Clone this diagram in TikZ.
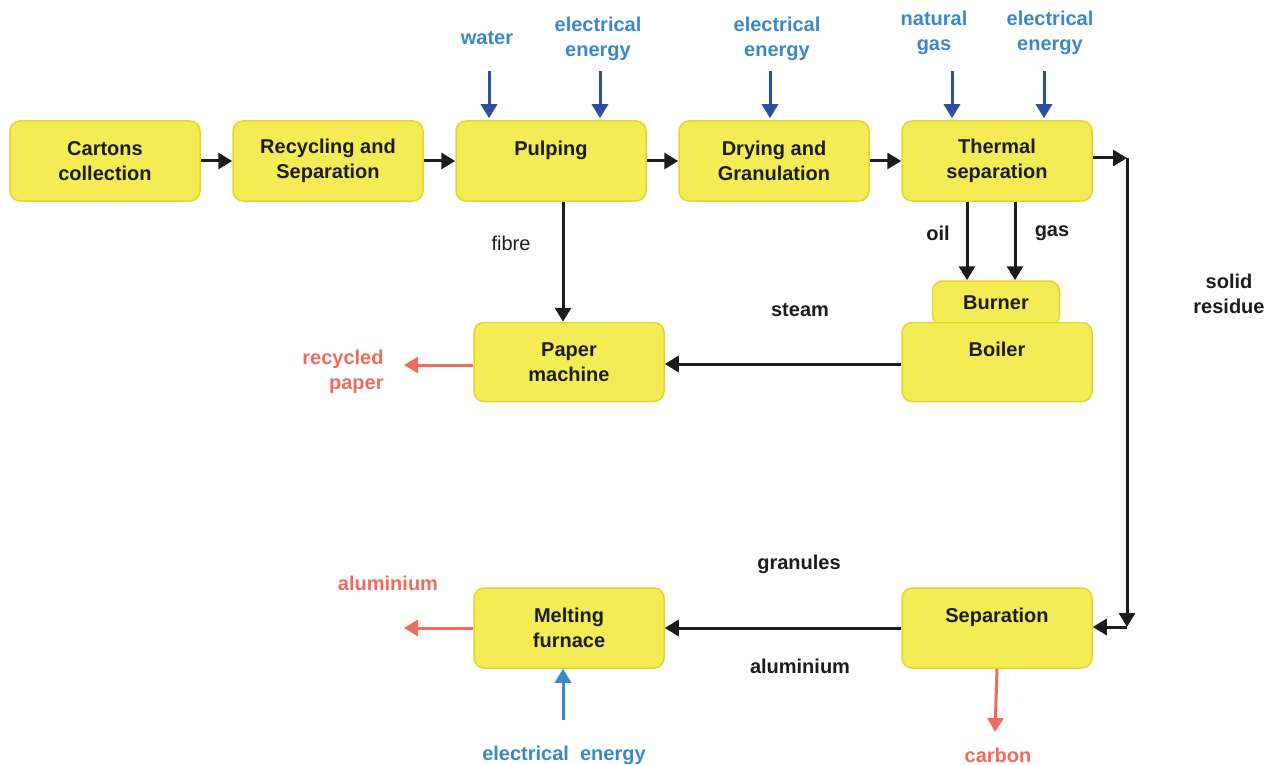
\documentclass[tikz,border=0pt]{standalone}
\usepackage{fontspec}
\setmainfont{Liberation Sans}
\usetikzlibrary{arrows.meta,calc}

\definecolor{boxfill}{HTML}{F4EC55}
\definecolor{boxline}{HTML}{E2D62E}
\definecolor{flowblack}{HTML}{1C1C1C}
\definecolor{feedblue}{HTML}{2B50A0}
\definecolor{lblblue}{HTML}{3B88C8}
\definecolor{prodred}{HTML}{EE6B5E}

\tikzset{
  proc/.style={draw=boxline, fill=boxfill, line width=1.5pt, rounded corners=10pt,
    minimum width=190pt, minimum height=80pt, inner sep=0pt, align=center,
    font=\fontsize{20}{25}\selectfont\bfseries, text=flowblack},
  lbl/.style={align=center, font=\fontsize{20}{25}\selectfont\bfseries, text=flowblack},
  inlbl/.style={lbl, text=lblblue},
  outlbl/.style={lbl, text=prodred},
  flow/.style={draw=flowblack, line width=3pt, -{Triangle[length=14pt,width=16pt]}},
  feed/.style={flow, draw=feedblue, fill=feedblue},
  prod/.style={flow, draw=prodred, fill=prodred},
}

\begin{document}
\begin{tikzpicture}[x=1pt,y=-1pt]
  \useasboundingbox (0,0) rectangle (1267,765);

  % top row
  \node[proc] (cartons) at (105,161) {Cartons\\collection};
  \node[proc] (recyc) at (328,161) {Recycling and\\Separation};
  \node[proc] (pulp) at (551,161) {Pulping\\\phantom{x}};
  \node[proc] (dry) at (774,161) {Drying and\\Granulation};
  \node[proc] (thermal) at (997,161) {Thermal\\separation};

  % middle row
  \node[proc, minimum width=127pt, minimum height=44pt] (burner) at (996,303) {Burner};
  \node[proc, minimum height=79pt] (boiler) at (997,362) {Boiler\\\phantom{x}};
  \node[proc, minimum height=79pt] (paper) at (569,362) {Paper\\machine};

  % bottom row
  \node[proc] (melt) at (569,628) {Melting\\furnace};
  \node[proc] (sep) at (997,628) {Separation\\\phantom{x}};

  \foreach \a/\b in {cartons/recyc, recyc/pulp, pulp/dry, dry/thermal}
    \draw[flow] (\a.east) -- (\b.west);

  % inputs from above
  \node[inlbl] (water) at (487,38) {water};
  \node[inlbl] (elec1) at (598,39) {electrical\\energy};
  \node[inlbl] (elec2) at (777,39) {electrical\\energy};
  \node[inlbl] (natgas) at (934,33) {natural\\gas};
  \node[inlbl] (elec3) at (1050,33) {electrical\\energy};
  \coordinate (w1) at (489,71);
  \coordinate (w2) at (600,71);
  \coordinate (w3) at (770,71);
  \coordinate (w4) at (952,71);
  \coordinate (w5) at (1044,71);
  \foreach \c in {w1,w2,w3,w4,w5}
    \draw[feed] (\c) -- ($(\c |- pulp.north)+(0,-2)$);

  % fibre to paper machine
  \draw[flow] (pulp.south -| 563,0) -- (paper.north -| 563,0);
  \node[lbl, font=\fontsize{20}{25}\selectfont] (fibre) at (511,243) {fibre};

  % oil and gas to burner
  \draw[flow] (thermal.south -| 967,0) -- (burner.north -| 967,0);
  \draw[flow] (thermal.south -| 1015,0) -- (burner.north -| 1015,0);
  \node[lbl] (oil) at (938,233) {oil};
  \node[lbl] (gas) at (1052,233) {gas};

  % steam
  \draw[flow] (boiler.west |- 0,364) -- (paper.east |- 0,364);
  \node[lbl] (steam) at (800,310) {steam};

  % recycled paper out
  \coordinate (rp) at (404,365);
  \draw[prod] (paper.west |- rp) -- (rp);
  \node[outlbl, align=right] (recpaper) at (343,372) {recycled\\\hfill paper};

  % solid residue loop
  \coordinate (t1) at (1127,158);
  \coordinate (t2) at (1127,627);
  \draw[flow] (thermal.east |- t1) -- (t1);
  \draw[flow] (t1) -- (t2);
  \draw[flow] (t2) -- (sep.east |- t2);
  \node[lbl] (solid) at (1229,294) {solid\\residue};

  % separation to melting furnace
  \draw[flow] (sep.west) -- (melt.east);
  \node[lbl] (granules) at (799,564) {granules};
  \node[lbl] (alu) at (800,666) {aluminium};

  % outputs
  \coordinate (am) at (404,628);
  \draw[prod] (melt.west) -- (am);
  \node[outlbl] (aluout) at (388,583) {aluminium};
  \coordinate (cb) at (995,732);
  \draw[prod] (sep.south) -- (cb);
  \node[outlbl] (carbon) at (998,755) {carbon};

  % electrical energy to furnace
  \coordinate (e0) at (563,720);
  \draw[feed, draw=lblblue, fill=lblblue] (e0) -- (e0 |- melt.south);
  \node[inlbl] (elec4) at (564,755) {electrical\ \ energy};
\end{tikzpicture}
\end{document}
